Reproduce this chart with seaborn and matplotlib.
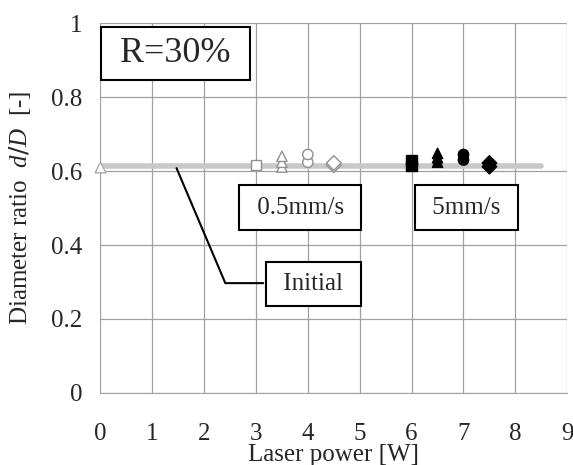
import pandas as pd
import matplotlib
matplotlib.use("Agg")
import matplotlib.pyplot as plt
import seaborn as sns

# data
initial_x = [0.0, 8.5]
initial_y = [0.615, 0.615]

slow_x = [3.0, 3.5, 3.5, 3.5, 4.0, 4.0, 4.5, 4.5]
slow_y = [0.616, 0.611, 0.624, 0.640, 0.624, 0.645, 0.616, 0.622]
slow_shape = ["s", "^", "^", "^", "o", "o", "D", "D"]

fast_x = [6.0, 6.0, 6.5, 6.5, 6.5, 7.0, 7.0, 7.5, 7.5]
fast_y = [0.614, 0.630, 0.624, 0.636, 0.648, 0.630, 0.645, 0.612, 0.622]
fast_shape = ["s", "s", "^", "^", "^", "o", "o", "D", "D"]

sns.set_style("white")
plt.rcParams['font.family'] = ['Liberation Serif', 'DejaVu Serif']
plt.rcParams['mathtext.fontset'] = 'custom'
plt.rcParams['mathtext.it'] = 'Liberation Serif:italic'

fig = plt.figure(figsize=(5.73, 4.65), dpi=100)
ax = fig.add_axes([0.175, 0.155, 0.815, 0.795])

# initial diameter ratio line
df_init = pd.DataFrame({"x": initial_x, "y": initial_y})
sns.lineplot(data=df_init, x="x", y="y", ax=ax, color="#c8c8c8", lw=4, zorder=2)
ax.scatter([0], [0.611], marker="^", s=60, facecolor="white", edgecolor="#aaaaaa",
           lw=1, zorder=3, clip_on=False)

df_slow = pd.DataFrame({"x": slow_x, "y": slow_y, "m": slow_shape})
df_fast = pd.DataFrame({"x": fast_x, "y": fast_y, "m": fast_shape})
mk = {"s": "s", "^": "^", "o": "o", "D": "D"}
sns.scatterplot(data=df_slow, x="x", y="y", style="m", markers=mk, s=55,
                facecolor="white", edgecolor="#909090", linewidth=1, ax=ax,
                legend=False, zorder=4)
sns.scatterplot(data=df_fast, x="x", y="y", style="m", markers=mk, s=55,
                color="black", edgecolor="black", linewidth=1, ax=ax,
                legend=False, zorder=4)

ax.set_xlim(0, 9)
ax.set_ylim(0, 1)
ax.set_xticks(range(10))
ax.set_yticks([0, 0.2, 0.4, 0.6, 0.8, 1])
ax.set_yticklabels(["0", "0.2", "0.4", "0.6", "0.8", "1"])
ax.grid(True, color="#a0a0a0", lw=0.9)
for s in ["top", "right", "left"]:
    ax.spines[s].set_visible(False)
ax.spines["bottom"].set_color("#a0a0a0")
ax.tick_params(axis="both", length=0, labelsize=18)
ax.tick_params(axis="y", pad=13)
ax.tick_params(axis="x", pad=22)

ax.set_xlabel("Laser power [W]", fontsize=18, va="top")
ax.xaxis.set_label_coords(0.5, -0.137)
ax.set_ylabel("Diameter ratio  $\\mathit{d/D}$  [-]", fontsize=18)
ax.yaxis.set_label_coords(-0.143, 0.5)

box = dict(boxstyle="square,pad=0.45", facecolor="white", edgecolor="black", lw=1.5)
ax.text(1.447, 0.919, " R=30% ", fontsize=26, ha="center", va="center",
        bbox=dict(boxstyle="square,pad=0.28", facecolor="white", edgecolor="black", lw=1.5),
        zorder=6)
ax.text(3.857, 0.501, " 0.5mm/s ", fontsize=18, ha="center", va="center", bbox=box, zorder=6)
ax.text(7.05, 0.501, " 5mm/s ", fontsize=18, ha="center", va="center", bbox=box, zorder=6)
ax.text(4.11, 0.295, " Initial ", fontsize=18, ha="center", va="center", bbox=box, zorder=6)
ax.plot([1.47, 2.41, 3.14], [0.608, 0.297, 0.297], color="black", lw=1.5, zorder=5)

fig.savefig("out.png", dpi=100)
